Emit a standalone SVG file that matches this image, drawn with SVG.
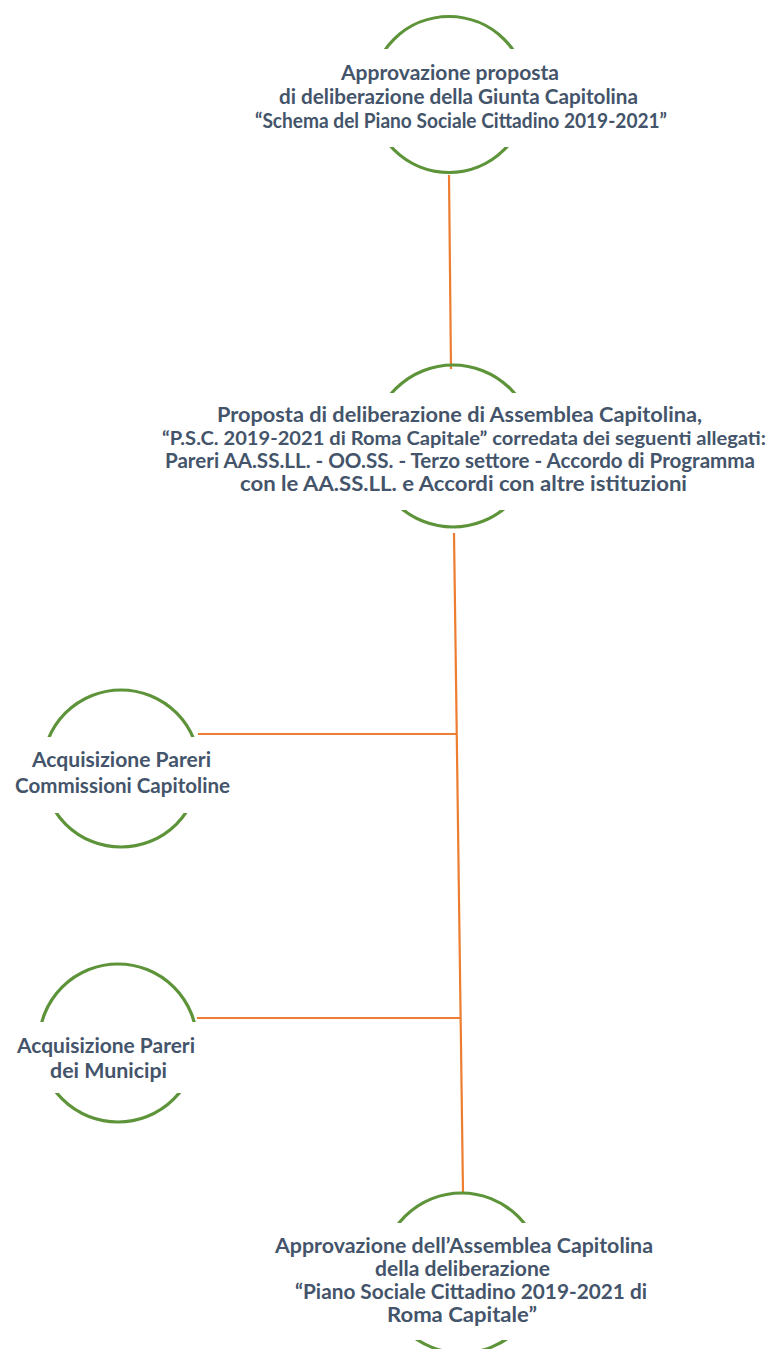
<svg xmlns="http://www.w3.org/2000/svg" width="775" height="1349" viewBox="0 0 775 1349">
<style>
.ring{fill:none;stroke:#5e9439;stroke-width:3.2}
.mask{fill:#ffffff}
.conn{stroke:#ed7d31;stroke-width:2.2;fill:none}
.t{font-family:Lato,"Open Sans","Liberation Sans",sans-serif;font-weight:700;font-size:20.6px;fill:#44546a;text-anchor:middle}
.n{font-size:19.8px}
</style>
<rect width="775" height="1349" fill="#ffffff"/>
<g id="connectors">
<line class="conn" x1="449" y1="175" x2="451" y2="369"/>
<line class="conn" x1="454" y1="533" x2="463" y2="1192"/>
<line class="conn" x1="198" y1="734" x2="456.5" y2="734"/>
<line class="conn" x1="197" y1="1018" x2="460.5" y2="1018"/>
</g>
<g id="node1">
<circle class="ring" cx="449" cy="94.5" r="78"/>
<rect class="mask" x="240" y="49" width="440" height="98"/>
<text class="t" x="450" y="80" textLength="218" lengthAdjust="spacingAndGlyphs">Approvazione proposta</text>
<text class="t" x="458.5" y="104" textLength="359" lengthAdjust="spacingAndGlyphs">di deliberazione della Giunta Capitolina</text>
<text class="t" x="461" y="128" textLength="412" lengthAdjust="spacingAndGlyphs">“Schema del Piano Sociale Cittadino 2019-2021”</text>
</g>
<g id="node2">
<circle class="ring" cx="453" cy="446" r="81"/>
<rect class="mask" x="150" y="393" width="625" height="117"/>
<text class="t" x="459.5" y="422" textLength="485" lengthAdjust="spacingAndGlyphs">Proposta di deliberazione di Assemblea Capitolina,</text>
<text class="t n" x="464" y="445" textLength="604" lengthAdjust="spacingAndGlyphs">“P.S.C. 2019-2021 di Roma Capitale” corredata dei seguenti allegati:</text>
<text class="t" x="460" y="468" textLength="590" lengthAdjust="spacingAndGlyphs">Pareri AA.SS.LL. - OO.SS. - Terzo settore - Accordo di Programma</text>
<text class="t" x="463.5" y="491" textLength="447" lengthAdjust="spacingAndGlyphs">con le AA.SS.LL. e Accordi con altre istituzioni</text>
</g>
<g id="node3">
<circle class="ring" cx="121" cy="768.5" r="78.5"/>
<rect class="mask" x="0" y="737" width="240" height="76"/>
<text class="t" x="121.5" y="767" textLength="179" lengthAdjust="spacingAndGlyphs">Acquisizione Pareri</text>
<text class="t" x="122.5" y="793" textLength="215" lengthAdjust="spacingAndGlyphs">Commissioni Capitoline</text>
</g>
<g id="node4">
<circle class="ring" cx="118" cy="1043" r="79"/>
<rect class="mask" x="0" y="1022" width="230" height="71"/>
<text class="t" x="106" y="1053" textLength="178" lengthAdjust="spacingAndGlyphs">Acquisizione Pareri</text>
<text class="t" x="108.5" y="1078" textLength="117" lengthAdjust="spacingAndGlyphs">dei Municipi</text>
</g>
<g id="node5">
<circle class="ring" cx="461.5" cy="1273" r="80"/>
<rect class="mask" x="260" y="1223" width="420" height="117"/>
<text class="t" x="464" y="1253" textLength="378" lengthAdjust="spacingAndGlyphs">Approvazione dell’Assemblea Capitolina</text>
<text class="t" x="462.5" y="1276" textLength="175" lengthAdjust="spacingAndGlyphs">della deliberazione</text>
<text class="t" x="471" y="1299" textLength="352" lengthAdjust="spacingAndGlyphs">“Piano Sociale Cittadino 2019-2021 di</text>
<text class="t" x="462" y="1322" textLength="150" lengthAdjust="spacingAndGlyphs">Roma Capitale”</text>
</g>
</svg>
